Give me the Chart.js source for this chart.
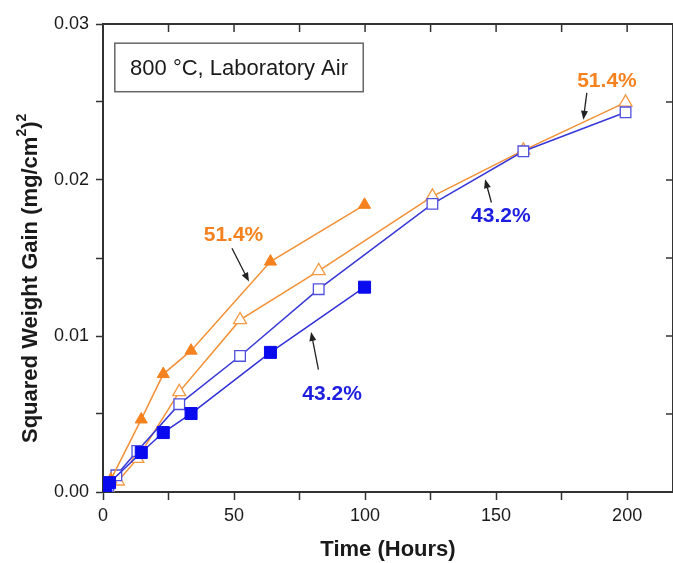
<!DOCTYPE html>
<html>
<head>
<meta charset="utf-8">
<script src="https://cdn.jsdelivr.net/npm/chart.js@4/dist/chart.umd.min.js"></script>
<style>
  html, body { margin: 0; padding: 0; background: #fff; overflow: hidden; }
  #box { position: relative; width: 673px; height: 563px; overflow: hidden; }
</style>
</head>
<body>
<div id="box"><canvas id="chart" width="673" height="563"></canvas></div>
<script>
// readings (hours, (mg/cm2)^2)
const filledSqX = [1, 2.5, 14.6, 23, 33.6, 63.9, 99.8];
const filledSqY = [0.0002, 0.0006, 0.00253, 0.00381, 0.00503, 0.00895, 0.01313];
const filledTriX = [1, 3, 14.6, 23, 33.6, 63.9, 99.8];
const filledTriY = [0.0003, 0.0008, 0.00465, 0.00756, 0.00906, 0.01477, 0.01841];
const openSqX = [1, 2, 5.1, 13.1, 29.1, 52.3, 82.3, 125.7, 160.4, 199.4];
const openSqY = [0.0002, 0.0004, 0.00107, 0.00263, 0.00563, 0.00872, 0.0130, 0.01847, 0.02184, 0.02434];
const openTriX = [1, 2, 5.7, 13.1, 29.1, 52.3, 82.3, 125.7, 160.4, 199.4];
const openTriY = [0.0001, 0.0002, 0.00069, 0.00214, 0.00642, 0.01103, 0.01417, 0.01895, 0.0219, 0.02498];

// axis ticks (labelled every other one)
const xTickValues = [0, 25, 50, 75, 100, 125, 150, 175, 200];
const yTickValues = [0, 0.005, 0.01, 0.015, 0.02, 0.025, 0.03];

// labels with arrows, in data units
const noteText = ["51.4%", "51.4%", "43.2%", "43.2%"];
const noteX = [49.8, 192.3, 151.8, 87.4];
const noteY = [0.01649, 0.02633, 0.01771, 0.00627];
const arrowFromX = [49.2, 184.6, 148.2, 82.2];
const arrowFromY = [0.01563, 0.02559, 0.01856, 0.00784];
const arrowToX = [55.7, 183.3, 145.8, 79.4];
const arrowToY = [0.01349, 0.02386, 0.02005, 0.01026];

const boxText = "800 \u00B0C, Laboratory Air";
const xTitle = "Time (Hours)";

const ORANGE = "#F5821F";
const BLUE = "#0A0AEE";
const noteColor = [ORANGE, ORANGE, "#1E1EE0", "#1E1EE0"];

const pts = (xs, ys) => xs.map((x, i) => ({ x: x, y: ys[i] }));

const frame = {
  id: "frame",
  afterDatasetsDraw(chart) {
    const ctx = chart.ctx;
    const a = chart.chartArea;
    const xs = chart.scales.x, ys = chart.scales.y;
    ctx.save();
    ctx.strokeStyle = "#333";
    ctx.lineWidth = 2;
    ctx.beginPath();
    ctx.moveTo(a.left, a.top); ctx.lineTo(a.right, a.top);
    ctx.moveTo(a.right, a.top); ctx.lineTo(a.right, a.bottom);
    ctx.stroke();
    ctx.lineWidth = 1.5;
    ctx.beginPath();
    xs.ticks.forEach(t => {
      const px = xs.getPixelForValue(t.value);
      ctx.moveTo(px, a.top); ctx.lineTo(px, a.top + 8);
    });
    ys.ticks.forEach(t => {
      const py = ys.getPixelForValue(t.value);
      ctx.moveTo(a.right, py); ctx.lineTo(a.right - 7, py);
    });
    ctx.stroke();

    // condition box
    const bl = xs.getPixelForValue(4.5), br = xs.getPixelForValue(99.3);
    const bt = ys.getPixelForValue(0.02877), bb = ys.getPixelForValue(0.02566);
    ctx.fillStyle = "#fff";
    ctx.fillRect(bl, bt, br - bl, bb - bt);
    ctx.strokeStyle = "#666";
    ctx.lineWidth = 1.5;
    ctx.strokeRect(bl, bt, br - bl, bb - bt);
    ctx.fillStyle = "#1a1a1a";
    ctx.font = "22px 'Liberation Sans', Arial, sans-serif";
    ctx.textAlign = "center";
    ctx.textBaseline = "middle";
    ctx.fillText(boxText, (bl + br) / 2, (bt + bb) / 2 + 1);

    // arrows
    ctx.strokeStyle = "#222";
    ctx.fillStyle = "#222";
    ctx.lineWidth = 1.3;
    noteText.forEach((s, i) => {
      const x1 = xs.getPixelForValue(arrowFromX[i]), y1 = ys.getPixelForValue(arrowFromY[i]);
      const x2 = xs.getPixelForValue(arrowToX[i]), y2 = ys.getPixelForValue(arrowToY[i]);
      const ang = Math.atan2(y2 - y1, x2 - x1);
      ctx.beginPath();
      ctx.moveTo(x1, y1);
      ctx.lineTo(x2 - 6 * Math.cos(ang), y2 - 6 * Math.sin(ang));
      ctx.stroke();
      ctx.beginPath();
      ctx.moveTo(x2, y2);
      ctx.lineTo(x2 - 9 * Math.cos(ang) + 3.5 * Math.sin(ang), y2 - 9 * Math.sin(ang) - 3.5 * Math.cos(ang));
      ctx.lineTo(x2 - 9 * Math.cos(ang) - 3.5 * Math.sin(ang), y2 - 9 * Math.sin(ang) + 3.5 * Math.cos(ang));
      ctx.closePath();
      ctx.fill();
    });

    // percent labels
    ctx.font = "bold 21px 'Liberation Sans', Arial, sans-serif";
    noteText.forEach((s, i) => {
      ctx.fillStyle = noteColor[i];
      ctx.fillText(s, xs.getPixelForValue(noteX[i]), ys.getPixelForValue(noteY[i]));
    });

    // y title with small superscripts
    ctx.translate(31, 443);
    ctx.rotate(-Math.PI / 2);
    ctx.textAlign = "left";
    ctx.textBaseline = "middle";
    ctx.fillStyle = "#1a1a1a";
    const big = "bold 22px 'Liberation Sans', Arial, sans-serif";
    const small = "bold 14px 'Liberation Sans', Arial, sans-serif";
    let cx = 0;
    [["Squared Weight Gain (mg/cm", big, 0], ["2", small, -9], [")", big, 0], ["2", small, -9]].forEach(p => {
      ctx.font = p[1];
      ctx.fillText(p[0], cx, p[2]);
      cx += ctx.measureText(p[0]).width;
    });
    ctx.restore();
  }
};

new Chart(document.getElementById("chart"), {
  type: "line",
  data: {
    datasets: [
      {
        data: pts(filledSqX, filledSqY),
        borderColor: "#3030D8", borderWidth: 1.5,
        pointStyle: "rect", pointRadius: 8.5,
        pointBackgroundColor: BLUE, pointBorderColor: BLUE, pointBorderWidth: 1
      },
      {
        data: pts(filledTriX, filledTriY),
        borderColor: "#F39035", borderWidth: 1.5,
        pointStyle: "triangle", pointRadius: 7,
        pointBackgroundColor: ORANGE, pointBorderColor: ORANGE, pointBorderWidth: 1
      },
      {
        data: pts(openSqX, openSqY),
        borderColor: "#3838D8", borderWidth: 1.5,
        pointStyle: "rect", pointRadius: 7.5,
        pointBackgroundColor: "#fff", pointBorderColor: "#5050E0", pointBorderWidth: 1.3
      },
      {
        data: pts(openTriX, openTriY),
        borderColor: "#F39035", borderWidth: 1.5,
        pointStyle: "triangle", pointRadius: 7.5,
        pointBackgroundColor: "#fff", pointBorderColor: "#F39A45", pointBorderWidth: 1.3
      }
    ]
  },
  options: {
    responsive: false,
    animation: false,
    layout: { autoPadding: false, padding: { left: 0, top: 24, right: -2, bottom: 0 } },
    plugins: { legend: { display: false }, tooltip: { enabled: false } },
    elements: { line: { tension: 0 } },
    scales: {
      x: {
        type: "linear",
        min: 0, max: 217.5,
        afterBuildTicks: s => { s.ticks = xTickValues.map(v => ({ value: v })); },
        afterFit: s => { s.height = 71; s.paddingRight = 0; },
        ticks: {
          autoSkip: false, maxRotation: 0, padding: 5,
          color: "#1a1a1a",
          font: { family: "'Liberation Sans', Arial, sans-serif", size: 18 },
          callback: v => (v % 50 === 0 ? String(v) : "")
        },
        grid: { drawOnChartArea: false, drawTicks: true, tickLength: 8, tickColor: "#333", tickWidth: 1.5 },
        border: { color: "#333", width: 2 },
        title: {
          display: true, text: xTitle, color: "#1a1a1a",
          font: { family: "'Liberation Sans', Arial, sans-serif", size: 22, weight: "bold" },
          padding: { top: 0, bottom: 0 }
        }
      },
      y: {
        min: 0, max: 0.03,
        afterBuildTicks: s => { s.ticks = yTickValues.map(v => ({ value: v })); },
        afterFit: s => { s.width = 103; },
        ticks: {
          autoSkip: false, padding: 7,
          color: "#1a1a1a",
          font: { family: "'Liberation Sans', Arial, sans-serif", size: 18 },
          callback: v => (Math.round(v * 1000) % 10 === 0 ? v.toFixed(2) : "")
        },
        grid: { drawOnChartArea: false, drawTicks: true, tickLength: 7, tickColor: "#333", tickWidth: 1.5 },
        border: { color: "#333", width: 2 }
      }
    }
  },
  plugins: [frame]
});
</script>
</body>
</html>
